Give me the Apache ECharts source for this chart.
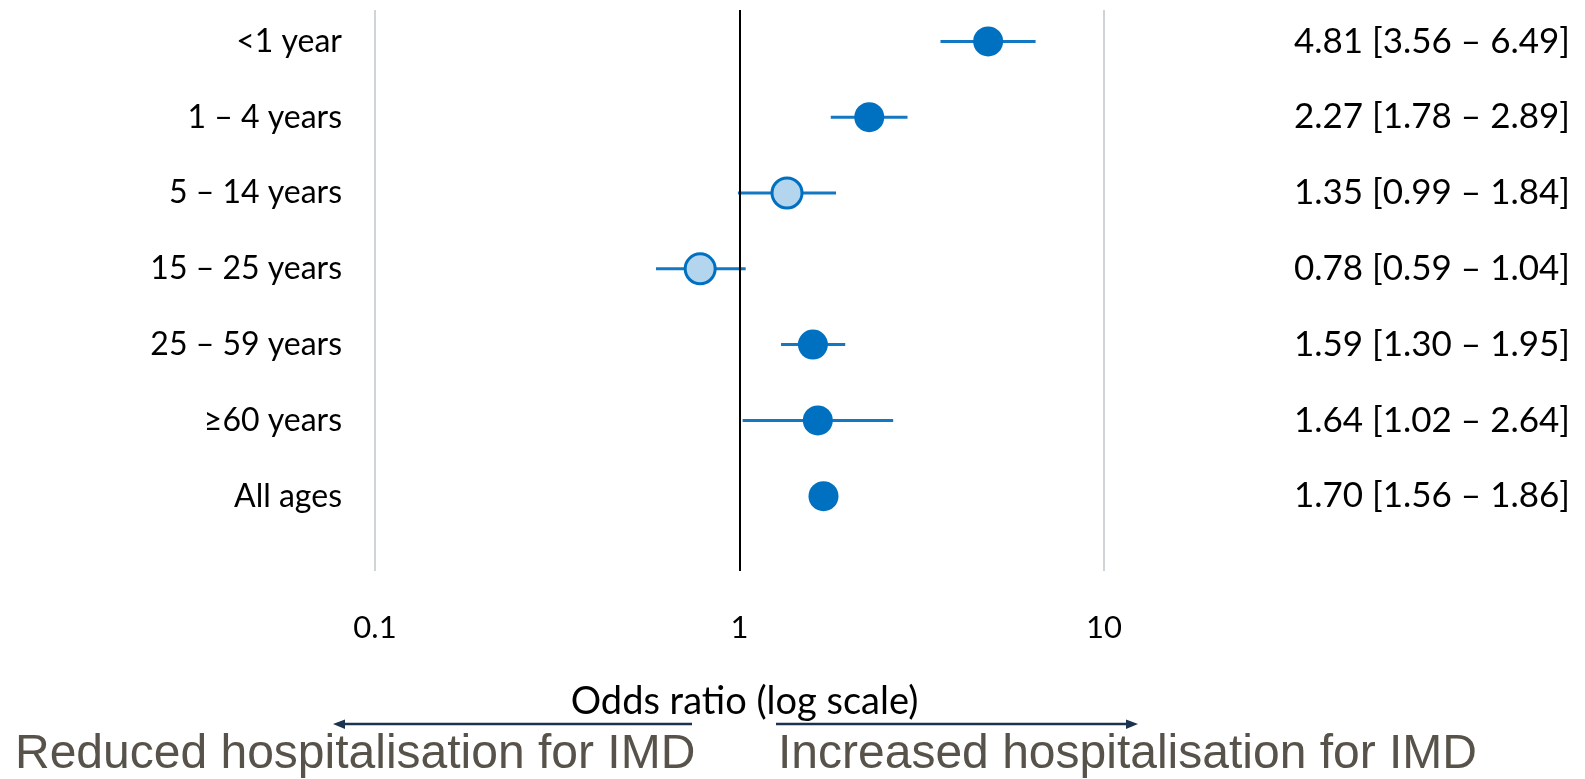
<!DOCTYPE html>
<html>
<head>
<meta charset="utf-8">
<script src="https://cdn.jsdelivr.net/npm/echarts@6/dist/echarts.min.js"></script>
<style>
  html, body { margin: 0; padding: 0; background: #ffffff; }
  #chart { width: 1585px; height: 779px; }
</style>
</head>
<body>
<div id="chart"></div>
<script>
// Age groups, odds ratios and 95% confidence limits
const ageGroups = ['<1 year', '1 \u2013 4 years', '5 \u2013 14 years', '15 \u2013 25 years', '25 \u2013 59 years', '\u226560 years', 'All ages'];
const oddsRatio = [4.81, 2.27, 1.35, 0.78, 1.59, 1.64, 1.70];
const ciLower   = [3.56, 1.78, 0.99, 0.59, 1.30, 1.02, 1.56];
const ciUpper   = [6.49, 2.89, 1.84, 1.04, 1.95, 2.64, 1.86];
const xTicks    = [0.1, 1, 10];

const BLUE = '#0070c0';
const LIGHT = '#b3d6ee';
const BAR = '#1477c2';
const ARROW = '#1c3350';
const NOTE = '#58534a';
const FONT = 'Lato';

const summaryText = oddsRatio.map((v, i) =>
  v.toFixed(2) + ' [' + ciLower[i].toFixed(2) + ' \u2013 ' + ciUpper[i].toFixed(2) + ']');

const GRID_LEFT = 375, GRID_RIGHT = 481;

const chart = echarts.init(document.getElementById('chart'), null, { renderer: 'canvas' });

chart.setOption({
  backgroundColor: '#ffffff',
  animation: false,
  grid: [
    // frame with reference lines and tick labels
    { left: GRID_LEFT, right: GRID_RIGHT, top: 10, height: 561 },
    // rows of estimates
    { left: GRID_LEFT, right: GRID_RIGHT, top: 3.5, height: 530.6 }
  ],
  xAxis: [
    {
      gridIndex: 0, type: 'log', logBase: 10, min: xTicks[0], max: xTicks[xTicks.length - 1],
      axisLine: { show: false }, axisTick: { show: false },
      splitLine: { show: true, lineStyle: { color: '#cfd4d6', width: 2 } },
      axisLabel: {
        margin: 41, color: '#000', fontFamily: FONT, fontSize: 31,
        formatter: v => String(Number(v.toPrecision(3)))
      },
      name: 'Odds ratio (log scale)', nameLocation: 'middle', nameGap: 112,
      nameTextStyle: { color: '#000', fontFamily: FONT, fontSize: 38, padding: [0, 0, 0, 10] }
    },
    {
      gridIndex: 1, type: 'log', logBase: 10, min: xTicks[0], max: xTicks[xTicks.length - 1],
      show: false
    }
  ],
  yAxis: [
    { gridIndex: 0, type: 'value', min: 0, max: 1, show: false },
    {
      gridIndex: 1, type: 'category', inverse: true, data: ageGroups,
      axisLine: { show: false }, axisTick: { show: false }, splitLine: { show: false },
      axisLabel: { margin: 33, color: '#000', fontFamily: FONT, fontSize: 32 }
    },
    {
      gridIndex: 1, type: 'category', inverse: true, position: 'right', data: summaryText,
      axisLabel: { margin: 466, align: 'right', color: '#000', fontFamily: FONT, fontSize: 35 },
      axisLine: { show: false }, axisTick: { show: false }, splitLine: { show: false }
    }
  ],
  series: [
    {
      // line of no effect at OR = 1
      type: 'line', xAxisIndex: 0, yAxisIndex: 0, data: [],
      markLine: {
        silent: true, symbol: ['none', 'none'], label: { show: false },
        lineStyle: { color: '#000', width: 2, type: 'solid' },
        data: [{ xAxis: 1 }]
      }
    },
    {
      // confidence interval whiskers
      type: 'custom', xAxisIndex: 1, yAxisIndex: 1,
      data: ageGroups.map((g, i) => [ciLower[i], ciUpper[i], i]),
      encode: { x: [0, 1], y: 2 },
      renderItem: (params, api) => {
        const a = api.coord([api.value(0), api.value(2)]);
        const b = api.coord([api.value(1), api.value(2)]);
        return {
          type: 'line',
          shape: { x1: a[0], y1: a[1], x2: b[0], y2: b[1] },
          style: { stroke: BAR, lineWidth: 3 }
        };
      },
      z: 3
    },
    {
      // point estimates; open markers where the interval spans 1
      type: 'scatter', xAxisIndex: 1, yAxisIndex: 1, symbol: 'circle', symbolSize: 30,
      data: oddsRatio.map((v, i) => {
        const spansOne = ciLower[i] <= 1 && ciUpper[i] >= 1;
        return {
          value: [v, i],
          itemStyle: spansOne
            ? { color: LIGHT, borderColor: BLUE, borderWidth: 3, opacity: 1 }
            : { color: BLUE, borderWidth: 0, opacity: 1 }
        };
      }),
      z: 4
    }
  ],
  graphic: [
    // direction arrows below the axis title
    { type: 'line', silent: true, shape: { x1: 692, y1: 724, x2: 340, y2: 724 }, style: { stroke: ARROW, lineWidth: 2.5 } },
    { type: 'polygon', silent: true, shape: { points: [[333, 724], [345, 719.5], [345, 729]] }, style: { fill: ARROW } },
    { type: 'line', silent: true, shape: { x1: 776, y1: 724, x2: 1131, y2: 724 }, style: { stroke: ARROW, lineWidth: 2.5 } },
    { type: 'polygon', silent: true, shape: { points: [[1138, 724], [1126, 719.5], [1126, 729]] }, style: { fill: ARROW } },
    {
      type: 'text', silent: true, x: 15, y: 779,
      style: { text: 'Reduced hospitalisation for IMD', fill: NOTE, font: '48px "Liberation Sans", Arial, sans-serif', verticalAlign: 'bottom' }
    },
    {
      type: 'text', silent: true, x: 778, y: 779,
      style: { text: 'Increased hospitalisation for IMD', fill: NOTE, font: '48px "Liberation Sans", Arial, sans-serif', verticalAlign: 'bottom' }
    }
  ]
});
</script>
</body>
</html>
